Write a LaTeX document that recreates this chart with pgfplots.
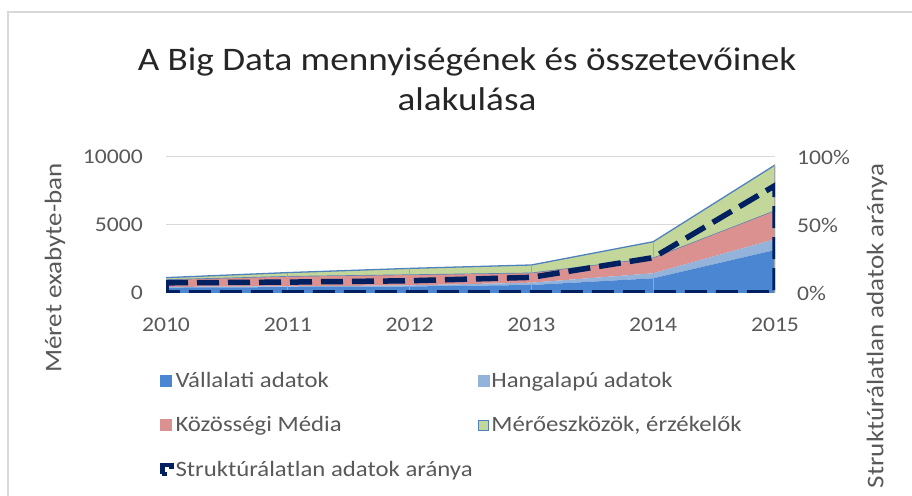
\documentclass[border=0pt]{standalone}
\usepackage{fontspec}
\setmainfont{Carlito}[FakeStretch=1.13]
\usepackage{pgfplots}
\pgfplotsset{compat=1.18}

\definecolor{vall}{HTML}{4A86D2}
\definecolor{hang}{HTML}{93B3DA}
\definecolor{kozm}{HTML}{DA918F}
\definecolor{mero}{HTML}{C4D79B}
\definecolor{edgeblue}{HTML}{4F81BD}
\definecolor{navy}{HTML}{002060}
\definecolor{txt}{HTML}{595959}
\definecolor{gridc}{HTML}{D9D9D9}
\definecolor{dropc}{HTML}{A6A6A6}

\pgfplotsset{
    bd/.style={
        scale only axis,
        width=609bp, height=136bp,
        at={(166bp,203bp)}, anchor=south west,
        xmin=2010, xmax=2015,
        enlargelimits=false,
        axis line style={draw=none},
        major tick length=0pt,
        tick label style={font=\fontsize{21}{25}\selectfont, text=txt, inner sep=0pt},
        /pgf/number format/assume math mode=true,
        /pgf/number format/1000 sep={},
        scaled y ticks=false,
    },
}

\begin{document}
\begin{tikzpicture}
\fill[white] (0,0) rectangle (912bp,496bp);
\path[use as bounding box] (0,0) rectangle (912bp,496bp);
\draw[gridc, line width=2bp] (8bp,0) -- (8bp,484bp) -- (912bp,484bp);

\node[font=\fontsize{33}{40}\selectfont, align=center, text=black!85] at (467bp,417bp)
    {A Big Data mennyiségének és összetevőinek\\alakulása};
\node[rotate=90, font=\fontsize{24}{28}\selectfont, text=txt] at (55bp,228bp) {Méret exabyte-ban};
\node[rotate=90, font=\fontsize{24}{28}\selectfont, text=txt] at (877bp,170bp) {Struktúrálatlan adatok aránya};

% stacked areas (exabyte)
\begin{axis}[
    bd,
    axis x line*=bottom, axis y line*=left,
    ymin=0, ymax=10000,
    ytick={0,5000,10000},
    xtick={2010,2011,2012,2013,2014,2015},
    ymajorgrids,
    grid style={gridc, line width=1bp},
    xticklabel style={anchor=north, yshift=-25bp},
    yticklabel style={anchor=east, xshift=-23bp},
    stack plots=y,
]
\addplot[fill=vall, draw=none] coordinates {(2010,400) (2011,430) (2012,480) (2013,590) (2014,1080) (2015,3160)} \closedcycle;
\addplot[fill=hang, draw=none] coordinates {(2010,50) (2011,60) (2012,80) (2013,170) (2014,370) (2015,790)} \closedcycle;
\addplot[fill=kozm, draw=none] coordinates {(2010,510) (2011,710) (2012,760) (2013,690) (2014,1100) (2015,2080)} \closedcycle;
\addplot[fill=mero, draw=edgeblue, line width=1.3bp] coordinates {(2010,170) (2011,300) (2012,490) (2013,610) (2014,1220) (2015,3380)} \closedcycle;
\end{axis}

% drop lines
\begin{axis}[bd, hide axis, ymin=0, ymax=10000]
\addplot[ycomb, dropc, line width=1.3bp, mark=none] coordinates {(2010,1130) (2011,1500) (2012,1810) (2013,2060) (2014,3770) (2015,9410)};
\end{axis}

% ratio (secondary axis)
\begin{axis}[
    bd,
    axis x line=none, axis y line*=right,
    ymin=0, ymax=100,
    ytick={0,50,100},
    yticklabels={0\%,50\%,100\%},
    yticklabel style={anchor=west, xshift=22bp},
    legend columns=2,
    legend cell align=left,
    legend style={
        at={(-0.015,-0.55)}, anchor=north west,
        draw=none, fill=none,
        font=\fontsize{22}{26}\selectfont, text=txt,
        /tikz/every even column/.append style={column sep=3bp},
        row sep=24bp,
    },
]
\addlegendimage{legend image code/.code={\fill[vall] (0bp,-5.5bp) rectangle (11bp,5.5bp);}}
\addlegendentry{Vállalati adatok}
\addlegendimage{legend image code/.code={\fill[hang] (0bp,-5.5bp) rectangle (11bp,5.5bp);}}
\addlegendentry{Hangalapú adatok}
\addlegendimage{legend image code/.code={\fill[kozm] (0bp,-5.5bp) rectangle (11bp,5.5bp);}}
\addlegendentry{Közösségi Média}
\addlegendimage{legend image code/.code={\filldraw[fill=mero, draw=edgeblue, line width=1bp] (0bp,-5bp) rectangle (10bp,5bp);}}
\addlegendentry{Mérőeszközök, érzékelők}
\addplot[navy, line width=5.5bp, dash pattern=on 22bp off 9bp,
    legend image code/.code={\draw[navy, line width=4.5bp] (2bp,-4.5bp) rectangle (11bp,4.5bp);}]
    coordinates {(2010,7.5) (2011,8) (2012,9) (2013,11.5) (2014,26) (2015,79)} \closedcycle;
\addlegendentry{Struktúrálatlan adatok aránya}
\end{axis}
\end{tikzpicture}
\end{document}
